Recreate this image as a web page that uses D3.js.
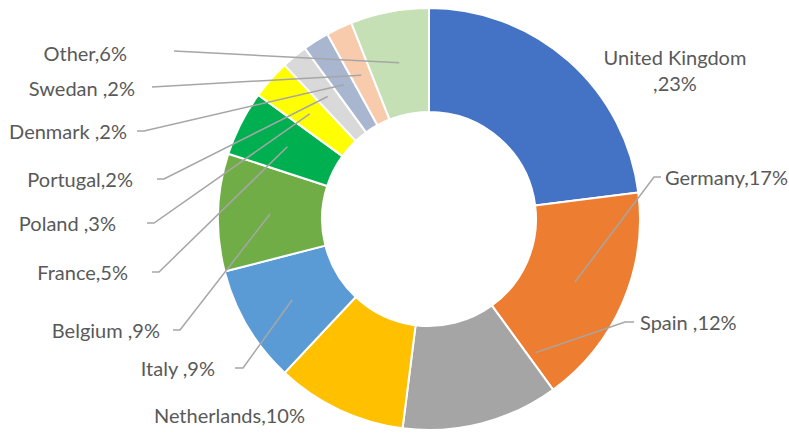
<!DOCTYPE html>
<html>
<head>
<meta charset="utf-8">
<script src="https://cdn.jsdelivr.net/npm/d3@7"></script>
<style>
  html, body { margin: 0; padding: 0; background: #fff; }
  svg { display: block; }
</style>
</head>
<body>
<svg id="chart" width="789" height="435"></svg>
<script>
// ---- data ----
const categories = ["United Kingdom", "Germany", "Spain", "Netherlands", "Italy", "Belgium",
                    "France", "Poland", "Portugal", "Denmark", "Swedan", "Other"];
const values = [23, 17, 12, 10, 9, 9, 5, 3, 2, 2, 2, 6];
const labelLines = [
  ["United Kingdom", ",23%"], ["Germany,17%"], ["Spain ,12%"], ["Netherlands,10%"],
  ["Italy ,9%"], ["Belgium ,9%"], ["France,5%"], ["Poland ,3%"], ["Portugal,2%"],
  ["Denmark ,2%"], ["Swedan ,2%"], ["Other,6%"]
];
const colors = ["#4472C4", "#ED7D31", "#A5A5A5", "#FFC000", "#5B9BD5", "#70AD47",
                "#00B050", "#FFFF00", "#D9D9D9", "#A9B6D0", "#F8CBAD", "#C5E0B4"];

// ---- layout (label anchors, leader settings) ----
const labelLayout = [
  {x: 675, y: 57, anchor: "middle", leader: null},
  {x: 665, y: 177, anchor: "start", leader: {x0: 661, y0: 177, tick: -7, frac: 0.5}},
  {x: 640, y: 322, anchor: "start", leader: {x0: 634, y0: 322, tick: -9, frac: -0.06, rOff: 12}},
  {x: 305, y: 415, anchor: "end", leader: null},
  {x: 215, y: 368, anchor: "end", leader: {x0: 235, y0: 368, tick: 8, frac: 0.5}},
  {x: 160, y: 330, anchor: "end", leader: {x0: 173, y0: 330, tick: 7, frac: 0.5}},
  {x: 128, y: 272, anchor: "end", leader: {x0: 152, y0: 272, tick: 7, frac: 0.5}},
  {x: 116, y: 223, anchor: "end", leader: {x0: 147, y0: 223, tick: 7, frac: 0.5}},
  {x: 133, y: 179, anchor: "end", leader: {x0: 157, y0: 179, tick: 7, frac: 0.5}},
  {x: 127, y: 131, anchor: "end", leader: {x0: 137, y0: 131, tick: 7, frac: 0.5}},
  {x: 135, y: 88, anchor: "end", leader: {x0: 152, y0: 87, tick: 0, frac: 0.5}},
  {x: 127, y: 53, anchor: "end", leader: {x0: 174, y0: 51, tick: 0, frac: 0.5}}
];

const cx = 429, cy = 219, outerR = 211, innerR = 107;

const svg = d3.select("#chart");
const g = svg.append("g").attr("transform", `translate(${cx},${cy})`);

const data = categories.map((c, i) => ({name: c, value: values[i], i}));
const pie = d3.pie().value(d => d.value).sort(null);
const arcs = pie(data);
const arc = d3.arc().innerRadius(innerR).outerRadius(outerR);

g.selectAll("path.slice")
  .data(arcs)
  .join("path")
  .attr("class", "slice")
  .attr("d", arc)
  .attr("fill", d => colors[d.data.i])
  .attr("stroke", "#fff")
  .attr("stroke-width", 2)
  .attr("stroke-linejoin", "round");

// leader lines
const midR = (innerR + outerR) / 2;
const leaderG = svg.append("g");
arcs.forEach(a => {
  const L = labelLayout[a.data.i].leader;
  if (!L) return;
  const ang = a.startAngle + L.frac * (a.endAngle - a.startAngle);
  const r = midR + (L.rOff || 0);
  const tx = cx + r * Math.sin(ang), ty = cy - r * Math.cos(ang);
  const pts = [[L.x0, L.y0]];
  if (L.tick) pts.push([L.x0 + L.tick, L.y0]);
  pts.push([tx, ty]);
  leaderG.append("path")
    .attr("d", d3.line()(pts))
    .attr("fill", "none")
    .attr("stroke", "#A6A6A6")
    .attr("stroke-width", 1.5);
});

// labels
const textG = svg.append("g")
  .attr("font-family", "Lato, 'Open Sans', sans-serif")
  .attr("font-size", 20)
  .attr("fill", "#595959");
arcs.forEach(a => {
  const lay = labelLayout[a.data.i];
  const lines = labelLines[a.data.i];
  const t = textG.append("text")
    .attr("text-anchor", lay.anchor)
    .attr("x", lay.x).attr("y", lay.y)
    .attr("dominant-baseline", "central");
  lines.forEach((ln, k) => {
    t.append("tspan").attr("x", lay.x).attr("dy", k === 0 ? 0 : 26).text(ln);
  });
});
</script>
</body>
</html>
